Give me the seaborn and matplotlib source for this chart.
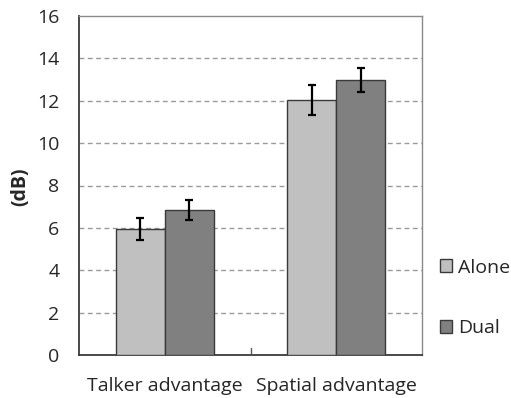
import matplotlib
matplotlib.use("Agg")
import matplotlib.pyplot as plt
import seaborn as sns
import pandas as pd
import numpy as np

categories = ["Talker advantage", "Spatial advantage"]
conditions = ["Alone", "Dual"]
alone_vals = [5.95, 12.02]
dual_vals = [6.84, 12.98]
alone_err = [0.50, 0.70]
dual_err = [0.48, 0.56]
yticks = [0, 2, 4, 6, 8, 10, 12, 14, 16]

rows = []
for i, c in enumerate(categories):
    rows.append({"category": c, "condition": "Alone", "value": alone_vals[i], "err": alone_err[i]})
    rows.append({"category": c, "condition": "Dual", "value": dual_vals[i], "err": dual_err[i]})
df = pd.DataFrame(rows)

sns.set_style("white")
plt.rcParams["font.family"] = ["Open Sans", "DejaVu Sans"]
FS = 14

fig = plt.figure(figsize=(5.11, 3.98), dpi=100)
ax = fig.add_axes([79 / 511, 1 - 355 / 398, 343 / 511, 339 / 398])

palette = {"Alone": "#c0c0c0", "Dual": "#808080"}
sns.barplot(data=df, x="category", y="value", hue="condition", hue_order=conditions,
            order=categories, palette=palette, width=0.57, errorbar=None,
            edgecolor="#3a3a3a", linewidth=1.0, saturation=1, ax=ax, legend=False, zorder=3)

# error bars at the centre of each drawn bar
for cont, errs in zip(ax.containers, [alone_err, dual_err]):
    xs = [p.get_x() + p.get_width() / 2 for p in cont.patches]
    hs = [p.get_height() for p in cont.patches]
    ax.errorbar(xs, hs, yerr=errs, fmt="none", ecolor="black", elinewidth=1.6,
                capsize=3, capthick=1.6, zorder=4)

ax.set_xlim(-0.5, 1.5)
ax.set_ylim(0, 16)
ax.set_yticks(yticks)
ax.set_yticklabels([str(t) for t in yticks], fontsize=FS)
ax.tick_params(axis="y", length=0, pad=14)
ax.set_xticks([0, 1])
ax.set_xticklabels(categories, fontsize=FS)
ax.tick_params(axis="x", length=0, pad=16)
ax.set_xlabel("")
ax.set_ylabel("(dB)", fontsize=FS, fontweight="bold")
ax.yaxis.set_label_coords(-0.143, 0.496)

# category divider tick on the baseline
ax.plot([0.5, 0.5], [0, 0.35], color="#555555", lw=1.0, zorder=5, clip_on=False)

for t in yticks[1:-1]:
    ax.axhline(t, color="#9a9a9a", lw=1.0, ls=(0, (3.5, 2.5)), zorder=1)

for side in ["left", "bottom"]:
    ax.spines[side].set_color("#3a3a3a")
    ax.spines[side].set_linewidth(1.3)
for side in ["top", "right"]:
    ax.spines[side].set_visible(True)
    ax.spines[side].set_color("#8a8a8a")
    ax.spines[side].set_linewidth(1.0)

handles = [plt.Rectangle((0, 0), 1, 1, facecolor=palette[c], edgecolor="#3a3a3a", lw=1.0)
           for c in conditions]
fig.legend(handles, conditions, loc="center left", bbox_to_anchor=(440 / 511, 1 - 298 / 398),
           frameon=False, fontsize=FS, handlelength=0.62, handleheight=0.62,
           handletextpad=0.31, labelspacing=2.2, borderpad=0, borderaxespad=0)

fig.savefig("out.png", dpi=100)
